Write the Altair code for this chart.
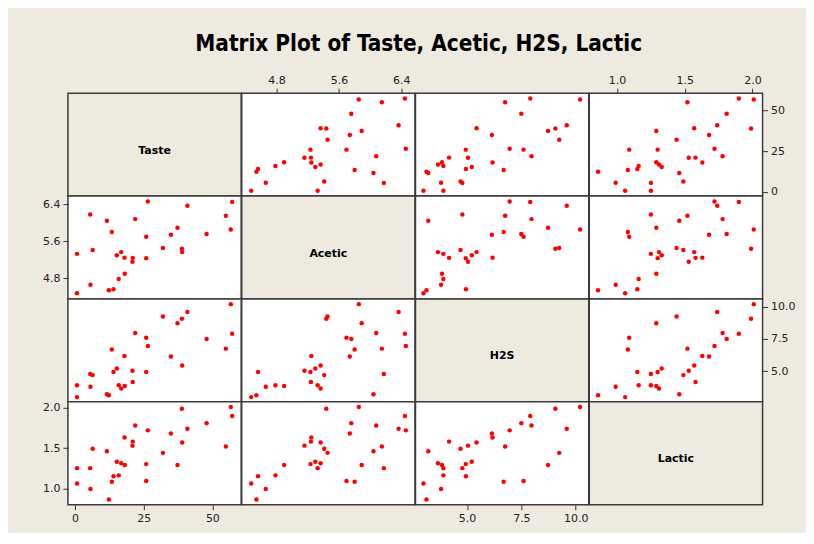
import altair as alt
import pandas as pd

# Cheese data (30 observations)
taste = [12.3, 20.9, 39.0, 47.9, 5.6, 25.9, 37.3, 21.9, 18.1, 21.0,
         34.9, 57.2, 0.7, 25.9, 54.9, 40.9, 15.9, 6.4, 18.0, 38.9,
         14.0, 15.2, 32.0, 56.7, 16.8, 11.6, 26.5, 0.7, 13.4, 5.5]
acetic = [4.543, 5.159, 5.366, 5.759, 4.663, 5.697, 5.892, 6.078, 4.898, 5.242,
          5.740, 6.446, 4.477, 5.236, 6.151, 6.365, 4.787, 5.412, 5.247, 5.438,
          4.564, 5.298, 5.455, 5.855, 5.366, 6.043, 6.458, 5.328, 5.802, 6.176]
h2s = [3.135, 5.043, 5.438, 7.496, 3.807, 7.601, 8.726, 7.966, 3.850, 4.174,
       6.142, 7.908, 2.996, 4.942, 6.752, 9.588, 3.912, 4.700, 6.174, 9.064,
       4.949, 5.220, 9.242, 10.199, 3.664, 3.219, 6.962, 3.912, 6.685, 4.787]
lactic = [0.86, 1.53, 1.57, 1.81, 0.99, 1.09, 1.29, 1.78, 1.29, 1.58,
          1.68, 1.90, 1.06, 1.30, 1.52, 1.74, 1.16, 1.49, 1.63, 1.99,
          1.15, 1.33, 1.44, 2.01, 1.31, 1.46, 1.72, 1.25, 1.08, 1.25]

variables = ["Taste", "Acetic", "H2S", "Lactic"]
domains = {"Taste": [-2.6, 60.5], "Acetic": [4.355, 6.575],
           "H2S": [2.63, 10.6], "Lactic": [0.795, 2.075]}
ticks = {"Taste": [0, 25, 50], "Acetic": [4.8, 5.6, 6.4],
         "H2S": [5.0, 7.5, 10.0], "Lactic": [1.0, 1.5, 2.0]}
fmts = {"Taste": "d", "Acetic": ".1f", "H2S": ".1f", "Lactic": ".1f"}

df = pd.DataFrame({"Taste": taste, "Acetic": acetic, "H2S": h2s, "Lactic": lactic})

W, H = 173.5, 103
BEIGE = "#EEEAE0"
LABEL_FONT = "DejaVu Sans"

# where axes appear
x_axis_orient = {0: ("bottom", 3), 1: ("top", 0), 2: ("bottom", 3), 3: ("top", 0)}
y_axis_orient = {0: ("right", 3), 1: ("left", 0), 2: ("right", 3), 3: ("left", 0)}


def make_axis(var, orient):
    return alt.Axis(orient=orient, values=ticks[var], format=fmts[var], title=None,
                    grid=False, domain=False, tickColor="#333333", tickSize=5,
                    tickWidth=1, labelPadding=3, labelFont=LABEL_FONT, labelFontSize=11,
                    labelColor="#222222")


panels = []
for r, yv in enumerate(variables):
    for c, xv in enumerate(variables):
        if r == c:
            lab = pd.DataFrame({"label": [yv]})
            p = alt.Chart(lab).mark_text(
                font=LABEL_FONT, fontSize=11, fontWeight="bold", color="black",
                baseline="top", align="center"
            ).encode(
                text="label:N", x=alt.value(W / 2), y=alt.value(H / 2)
            ).properties(width=W, height=H, view=alt.ViewBackground(fill=BEIGE))
        else:
            xo, xrow = x_axis_orient[c]
            yo, ycol = y_axis_orient[r]
            xaxis = make_axis(xv, xo) if xrow == r else None
            yaxis = make_axis(yv, yo) if ycol == c else None
            xenc = alt.X(f"{xv}:Q", scale=alt.Scale(domain=domains[xv], nice=False, zero=False),
                         axis=xaxis)
            yenc = alt.Y(f"{yv}:Q", scale=alt.Scale(domain=domains[yv], nice=False, zero=False),
                         axis=yaxis)
            p = alt.Chart(df).mark_circle(size=20, color="#FF0000", opacity=1).encode(
                x=xenc, y=yenc
            ).properties(width=W, height=H, view=alt.ViewBackground(fill="white"))
        panels.append(p)

chart = alt.concat(*panels, columns=4, spacing=0, bounds="flush").properties(
    title=alt.TitleParams("Matrix Plot of Taste, Acetic, H2S, Lactic",
                          font="DejaVu Sans Condensed", fontSize=22.4, fontWeight="bold",
                          color="black", anchor="middle", offset=18),
    padding={"left": 33, "top": 24, "right": 10, "bottom": 8},
    background=BEIGE,
).configure_view(
    stroke="#3a3a3a", strokeWidth=1.5
)

chart.save("out.html", embed_options={"renderer": "svg", "actions": False})
